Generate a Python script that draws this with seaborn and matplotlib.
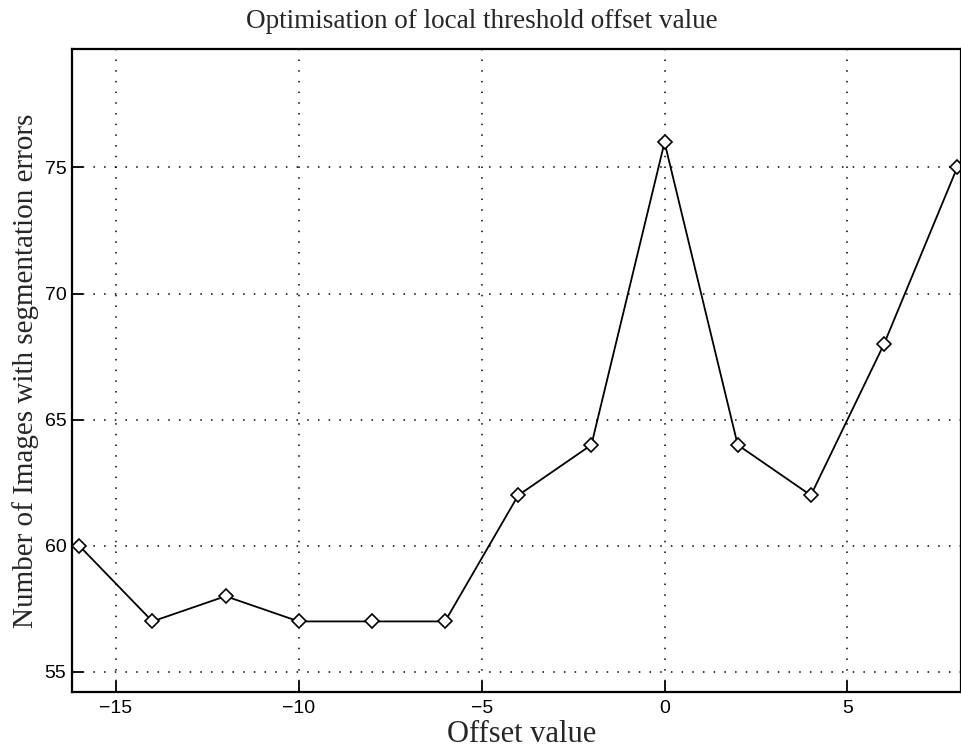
import matplotlib
matplotlib.use("Agg")
import matplotlib.pyplot as plt
import seaborn as sns
import pandas as pd

# Offset values tried and the resulting count of images with segmentation errors
offsets = [-16, -14, -12, -10, -8, -6, -4, -2, 0, 2, 4, 6, 8]
error_counts = [60, 57, 58, 57, 57, 57, 62, 64, 76, 64, 62, 68, 75]
x_ticks = [-15, -10, -5, 0, 5]
y_ticks = [55, 60, 65, 70, 75]

df = pd.DataFrame({"offset": offsets, "errors": error_counts})

sns.set_theme(style="white")
plt.rcParams["font.family"] = ["Liberation Sans", "DejaVu Sans"]

fig = plt.figure(figsize=(9.62, 7.5), dpi=100)
ax = fig.add_axes([0.0748, 0.0773, 0.924, 0.8574])

sns.lineplot(data=df, x="offset", y="errors", ax=ax, color="black", linewidth=1.3,
             marker="D", markersize=7.5, markerfacecolor="white",
             markeredgecolor="black", markeredgewidth=1.2)

ax.set_xlim(-16.2, 8.1)
ax.set_ylim(54.2, 79.7)
ax.set_xticks(x_ticks)
ax.set_yticks(y_ticks)
ax.set_xticklabels(["\u221215", "\u221210", "\u22125", "0", "5"])
ax.tick_params(direction="in", length=8, width=1.3, labelsize=14, colors="black",
               top=False, right=False, bottom=True, left=True)
ax.tick_params(axis="x", pad=6)
ax.tick_params(axis="y", pad=4)
ax.grid(True, linestyle=(0, (1, 6)), color="black", linewidth=1.1)

for side in ["left", "bottom", "top", "right"]:
    ax.spines[side].set_color("black")
    ax.spines[side].set_linewidth(1.6)

serif = ["Liberation Serif", "DejaVu Serif"]
fig.text(0.501, 0.971, "Optimisation of local threshold offset value", family=serif,
         fontsize=19.5, ha="center", va="center")
ax.set_xlabel("Offset value", family=serif, fontsize=22)
ax.xaxis.set_label_coords(0.506, -0.044, transform=ax.transAxes)
ax.xaxis.label.set_va("top")
ax.set_ylabel("Number of Images with segmentation errors", family=serif,
              fontsize=21, labelpad=4)

fig.savefig("out.png", dpi=100)
